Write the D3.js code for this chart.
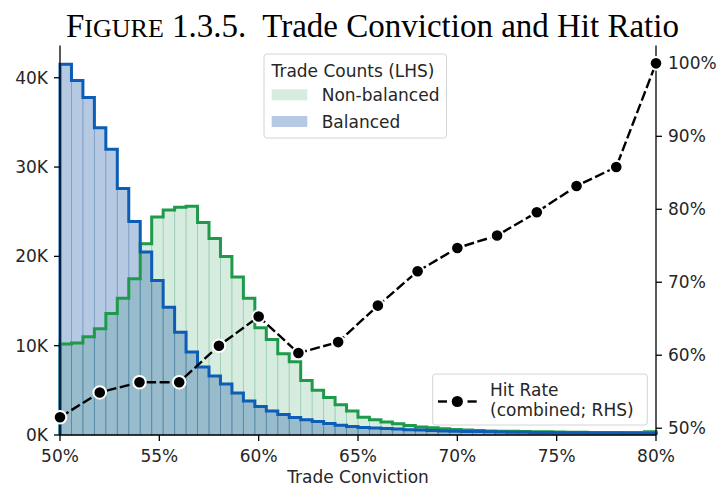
<!DOCTYPE html>
<html>
<head>
<meta charset="utf-8">
<script src="https://cdn.jsdelivr.net/npm/d3@7"></script>
<style>
  html, body { margin: 0; padding: 0; background: #fff; }
  svg { display: block; }
</style>
</head>
<body>
<svg id="chart" width="718" height="487"></svg>
<script>
// ---------------- DATA ----------------
// Histogram bins: 52 equal bins between 50% and 80% trade conviction
const binStart = 50;
const binEnd = 80;
const binCount = 52;
// Trade counts (thousands) per bin
const nonBalanced = [10.2, 10.3, 11.0, 11.9, 13.6, 15.3, 17.5, 21.4, 24.4, 25.2, 25.5, 25.6,
  23.8, 22.0, 20.0, 17.7, 15.3, 12.0, 10.7, 9.1, 8.2, 6.1, 5.0, 4.2, 3.4, 2.7, 2.0, 1.7,
  1.45, 1.25, 1.05, 0.9, 0.8, 0.7, 0.62, 0.55, 0.5, 0.46, 0.43, 0.41, 0.39, 0.37, 0.35,
  0.33, 0.31, 0.3, 0.29, 0.28, 0.27, 0.27, 0.28, 0.35];
const balanced = [41.5, 39.7, 37.8, 34.4, 32.0, 27.6, 23.9, 20.5, 17.3, 14.3, 11.5, 9.3,
  7.6, 6.6, 5.7, 4.7, 3.8, 3.2, 2.7, 2.3, 1.95, 1.7, 1.5, 1.3, 1.1, 0.95, 0.85, 0.78,
  0.72, 0.66, 0.6, 0.55, 0.5, 0.46, 0.43, 0.4, 0.38, 0.36, 0.34, 0.32, 0.3, 0.28, 0.27,
  0.26, 0.25, 0.24, 0.23, 0.22, 0.21, 0.2, 0.2, 0.19];
// Hit rate (combined), percent
const hitConviction = [50, 52, 54, 56, 58, 60, 62, 64, 66, 68, 70, 72, 74, 76, 78, 80];
const hitRate = [51.5, 54.9, 56.3, 56.3, 61.3, 65.3, 60.3, 61.8, 66.8, 71.5, 74.7, 76.4, 79.6, 83.2, 85.8, 100.0];
// Tick values / labels
const xTicks = [50, 55, 60, 65, 70, 75, 80];
const xTickLabels = ["50%", "55%", "60%", "65%", "70%", "75%", "80%"];
const yLeftTicks = [0, 10, 20, 30, 40];
const yLeftTickLabels = ["0K", "10K", "20K", "30K", "40K"];
const yRightTicks = [50, 60, 70, 80, 90, 100];
const yRightTickLabels = ["50%", "60%", "70%", "80%", "90%", "100%"];

// ---------------- LAYOUT ----------------
const svg = d3.select("#chart");
const L = 60, R = 656, T = 45.6, B = 435;
const font = "DejaVu Sans, Verdana, sans-serif";
const textColor = "#262626";

const x = d3.scaleLinear().domain([binStart, binEnd]).range([L, R]);
const yL = d3.scaleLinear().domain([0, 43.6]).range([B, T]);
const yR = d3.scaleLinear().domain([49.07, 102.43]).range([B, T]);

const binW = (binEnd - binStart) / binCount;
const edges = d3.range(binCount + 1).map(i => binStart + i * binW);

function bins(values) {
  return values.map((v, i) => ({ x0: edges[i], x1: edges[i + 1], v }));
}

const greenLine = "#1f9a4b", blueLine = "#0c5db5";

// bars (fills)
function drawBars(values, fill, stroke) {
  svg.append("g").selectAll("rect").data(bins(values)).join("rect")
    .attr("x", d => x(d.x0))
    .attr("width", d => x(d.x1) - x(d.x0))
    .attr("y", d => yL(d.v))
    .attr("height", d => yL(0) - yL(d.v))
    .attr("fill", fill)
    .attr("stroke", stroke)
    .attr("stroke-width", 0.9);
}
drawBars(nonBalanced, "rgba(44,162,95,0.2)", "rgba(44,140,95,0.18)");
drawBars(balanced, "rgba(30,90,170,0.33)", "rgba(30,80,150,0.22)");

// step outlines
function stepPoints(values) {
  const pts = [[edges[0], 0]];
  values.forEach((v, i) => pts.push([edges[i], v]));
  pts.push([edges[binCount], 0]);
  return pts;
}
const stepLine = d3.line().x(d => x(d[0])).y(d => yL(d[1])).curve(d3.curveStepAfter);
svg.append("path").attr("d", stepLine(stepPoints(nonBalanced)))
  .attr("fill", "none").attr("stroke", greenLine).attr("stroke-width", 3);
svg.append("path").attr("d", stepLine(stepPoints(balanced)))
  .attr("fill", "none").attr("stroke", blueLine).attr("stroke-width", 3);

// ---------------- AXES ----------------
const axisG = svg.append("g").attr("font-family", font).attr("font-size", 17).attr("fill", textColor);
// spines
axisG.append("line").attr("x1", L).attr("x2", L).attr("y1", T).attr("y2", B).attr("stroke", "#000").attr("stroke-width", 1.3);
axisG.append("line").attr("x1", R).attr("x2", R).attr("y1", T).attr("y2", B).attr("stroke", "#000").attr("stroke-width", 1.3);
axisG.append("line").attr("x1", L).attr("x2", R).attr("y1", B).attr("y2", B).attr("stroke", "#000").attr("stroke-width", 1.3);

// x ticks
xTicks.forEach((t, i) => {
  axisG.append("line").attr("x1", x(t)).attr("x2", x(t)).attr("y1", B).attr("y2", B + 6).attr("stroke", "#000").attr("stroke-width", 1.3);
  axisG.append("text").attr("x", x(t)).attr("y", 462).attr("text-anchor", "middle").text(xTickLabels[i]);
});
// left ticks
yLeftTicks.forEach((t, i) => {
  axisG.append("line").attr("x1", L - 6).attr("x2", L).attr("y1", yL(t)).attr("y2", yL(t)).attr("stroke", "#000").attr("stroke-width", 1.3);
  axisG.append("text").attr("x", L - 12).attr("y", yL(t)).attr("dy", "0.36em").attr("text-anchor", "end").text(yLeftTickLabels[i]);
});
// right ticks
yRightTicks.forEach((t, i) => {
  axisG.append("line").attr("x1", R).attr("x2", R + 6).attr("y1", yR(t)).attr("y2", yR(t)).attr("stroke", "#000").attr("stroke-width", 1.3);
  axisG.append("text").attr("x", R + 12).attr("y", yR(t)).attr("dy", "0.36em").attr("text-anchor", "start").text(yRightTickLabels[i]);
});
// x label
axisG.append("text").attr("x", (L + R) / 2).attr("y", 482.5).attr("text-anchor", "middle").text("Trade Conviction");

// ---------------- HIT RATE LINE ----------------
const hit = hitConviction.map((c, i) => ({ c, r: hitRate[i] }));
svg.append("path")
  .attr("d", d3.line().x(d => x(d.c)).y(d => yR(d.r))(hit))
  .attr("fill", "none").attr("stroke", "#000").attr("stroke-width", 2.4)
  .attr("stroke-dasharray", "10,3.5");
svg.append("g").selectAll("circle").data(hit).join("circle")
  .attr("cx", d => x(d.c)).attr("cy", d => yR(d.r)).attr("r", 6.3)
  .attr("fill", "#000").attr("stroke", "#fff").attr("stroke-width", 2);

// ---------------- LEGENDS ----------------
const lg = svg.append("g").attr("font-family", font).attr("font-size", 17).attr("fill", textColor);
lg.append("rect").attr("x", 264).attr("y", 54).attr("width", 182.5).attr("height", 84).attr("rx", 3)
  .attr("fill", "rgba(255,255,255,0.8)").attr("stroke", "#d4d4d4").attr("stroke-width", 1);
lg.append("text").attr("x", 271.5).attr("y", 77).text("Trade Counts (LHS)");
lg.append("rect").attr("x", 271.7).attr("y", 89.3).attr("width", 35.6).attr("height", 11)
  .attr("fill", "rgba(44,162,95,0.2)");
lg.append("text").attr("x", 321.7).attr("y", 101).text("Non-balanced");
lg.append("rect").attr("x", 271.7).attr("y", 116).attr("width", 35.6).attr("height", 11)
  .attr("fill", "rgba(30,90,170,0.33)");
lg.append("text").attr("x", 321.7).attr("y", 127.5).text("Balanced");

lg.append("rect").attr("x", 432.7).attr("y", 374).attr("width", 214.6).attr("height", 51).attr("rx", 3)
  .attr("fill", "rgba(255,255,255,0.8)").attr("stroke", "#d4d4d4").attr("stroke-width", 1);
lg.append("line").attr("x1", 438).attr("x2", 447).attr("y1", 401.5).attr("y2", 401.5).attr("stroke", "#000").attr("stroke-width", 2.4);
lg.append("line").attr("x1", 467.5).attr("x2", 476.7).attr("y1", 401.5).attr("y2", 401.5).attr("stroke", "#000").attr("stroke-width", 2.4);
lg.append("circle").attr("cx", 457.3).attr("cy", 401.5).attr("r", 5.6).attr("fill", "#000");
lg.append("text").attr("x", 490).attr("y", 395.5).text("Hit Rate");
lg.append("text").attr("x", 490).attr("y", 416).text("(combined; RHS)");

// ---------------- TITLE ----------------
const title = svg.append("text").attr("x", 66).attr("y", 37)
  .attr("font-family", "Liberation Serif, Times New Roman, serif").attr("font-size", 33).attr("fill", "#000");
title.append("tspan").text("F");
title.append("tspan").attr("font-size", 26).text("IGURE");
title.append("tspan").attr("xml:space", "preserve").text(" 1.3.5.  Trade Conviction and Hit Ratio");
</script>
</body>
</html>
